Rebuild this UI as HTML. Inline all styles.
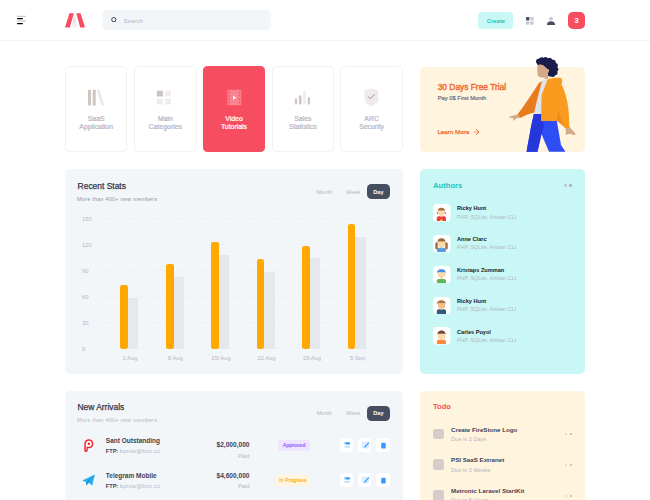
<!DOCTYPE html>
<html><head><meta charset="utf-8">
<style>
*{margin:0;padding:0;box-sizing:border-box}
html,body{width:650px;height:500px;overflow:hidden;background:#fff;font-family:"Liberation Sans",sans-serif}
.a{position:absolute}
.t{position:absolute;white-space:nowrap;line-height:1}
.hdr-line{left:0;top:40px;width:650px;height:1px;background:#F2F2F3}
.card{position:absolute;border-radius:5px}
.tile{position:absolute;top:66.3px;width:62.6px;height:85.6px;border:1px solid #F3F2F1;border-radius:4.6px;background:#fff}
.tile .lbl{position:absolute;left:0;width:100%;text-align:center;font-size:6.9px;-webkit-text-stroke:.22px #B5B5C3;color:#B5B5C3;line-height:8px;top:47.9px}
.gridline{position:absolute;left:101px;width:279px;height:0;border-top:1px dashed #ECEEF3}
.ylab{position:absolute;left:81.9px;width:20px;text-align:left;font-size:5.9px;color:#B5B5C3;line-height:1}
.xlab{position:absolute;top:355.7px;width:40px;text-align:center;font-size:5.8px;color:#B5B5C3;line-height:1}
.ob{position:absolute;width:7.6px;background:#FFA800;border-radius:2.3px}
.gb{position:absolute;width:10.4px;background:#E5E8ED}
.au-av{position:absolute;left:433.5px;width:17px;height:17px;border-radius:4px;background:#fff;overflow:hidden}
.au-n{position:absolute;left:457px;font-size:5.6px;font-weight:bold;color:#212121;line-height:1}
.au-s{position:absolute;left:457px;font-size:5.4px;color:#B5B5C3;line-height:1}
.btn-act{position:absolute;width:13.6px;height:13.6px;background:#fff;border-radius:3.8px}
.chk{position:absolute;left:433.4px;width:10.5px;height:10.5px;border-radius:2.5px;background:#D6CDCB}
.td-n{position:absolute;left:451px;font-size:6.2px;font-weight:bold;color:#3F4254;line-height:1}
.td-s{position:absolute;left:451px;font-size:5.6px;color:#B5B5C3;line-height:1}
.dot{position:absolute;width:2.8px;height:2.8px;border-radius:1px}
</style></head>
<body>
<!-- HEADER -->
<div class="a hdr-line"></div>
<svg class="a" style="left:0;top:0" width="650" height="40">
  <rect x="17" y="15.8" width="9" height="1" fill="#000" opacity=".25"/>
  <rect x="17" y="17.9" width="6" height="1.3" rx=".6" fill="#000"/>
  <rect x="17" y="20.5" width="9" height="1" fill="#000" opacity=".25"/>
  <rect x="17" y="22.9" width="6" height="1.3" rx=".6" fill="#000"/>
  <defs><linearGradient id="lg" x1="0" y1="0" x2="0" y2="1"><stop offset="0" stop-color="#D5DAE2"/><stop offset="1" stop-color="#F4F5F8"/></linearGradient></defs>
  <polygon points="74.4,14.5 71.2,27.4 77.6,27.4" fill="url(#lg)"/>
  <polygon points="69.4,13.3 73.9,13.3 69.8,27.4 65,27.4" fill="#F64E60"/>
  <polygon points="76.3,13.3 80.6,13.3 85,27.4 80.2,27.4" fill="#F64E60"/>
  <rect x="102.5" y="10" width="168.5" height="20" rx="4" fill="#F3F6F9"/>
  <circle cx="113.8" cy="19.6" r="2.1" fill="none" stroke="#3F4254" stroke-width="1"/>
  <line x1="115.5" y1="21.3" x2="116.9" y2="22.7" stroke="#3F4254" stroke-width=".8" opacity=".5"/>
  <rect x="478" y="12" width="35" height="17" rx="4" fill="#C9F7F5"/>
  <rect x="526" y="17" width="3.4" height="3.4" rx=".6" fill="#464E5F"/>
  <rect x="530.3" y="17" width="3.4" height="3.4" rx=".6" fill="#464E5F" opacity=".3"/>
  <rect x="526" y="21.3" width="3.4" height="3.4" rx=".6" fill="#464E5F" opacity=".3"/>
  <rect x="530.3" y="21.3" width="3.4" height="3.4" rx=".6" fill="#464E5F" opacity=".3"/>
  <circle cx="551" cy="18.6" r="1.9" fill="#464E5F" opacity=".3"/>
  <path d="M546.8,24.9 C547.1,22.3 548.8,21.2 551,21.2 C553.2,21.2 554.9,22.3 555.2,24.9 Z" fill="#464E5F"/>
  <rect x="568" y="12" width="17" height="17" rx="4.8" fill="#F64E60"/>
</svg>
<div class="t" style="left:123.5px;top:17.6px;font-size:6.15px;color:#B5B5C3">Search</div>
<div class="t" style="left:486.8px;top:18.5px;font-size:5.9px;font-weight:bold;color:#1BC5BD">Create</div>
<div class="t" style="left:568px;width:17px;text-align:center;top:17px;font-size:7.4px;font-weight:bold;color:#fff">3</div>

<!-- TILES -->
<div class="tile" style="left:64.9px">
  <svg class="a" style="left:0;top:0" width="62" height="60">
    <rect x="22" y="22.8" width="3" height="15.6" rx=".5" fill="#CFC6C3"/>
    <rect x="26.7" y="22.8" width="3" height="15.6" rx=".5" fill="#CFC6C3"/>
    <polygon points="30.6,22.8 33.3,22.8 38.3,38.4 35.6,38.4" fill="#CFC6C3" opacity=".4"/>
  </svg>
  <div class="lbl">SaaS<br>Application</div>
</div>
<div class="tile" style="left:134.1px">
  <svg class="a" style="left:0;top:0" width="62" height="60">
    <rect x="21.9" y="23.7" width="6" height="5.8" rx=".6" fill="#CCC3C0"/>
    <rect x="30" y="23.7" width="6" height="5.8" rx=".6" fill="#CCC3C0" opacity=".3"/>
    <rect x="21.9" y="31.8" width="6" height="5.8" rx=".6" fill="#CCC3C0" opacity=".3"/>
    <rect x="30" y="31.8" width="6" height="5.8" rx=".6" fill="#CCC3C0" opacity=".3"/>
  </svg>
  <div class="lbl">Main<br>Categories</div>
</div>
<div class="tile" style="left:202.7px;background:#F64E60;border-color:#F64E60">
  <svg class="a" style="left:0;top:0" width="62" height="60">
    <rect x="23.3" y="22.7" width="14" height="15.5" rx=".8" fill="#fff" opacity=".3"/>
    <g fill="#F64E60" opacity=".9"><rect x="24.30" y="24.70" width="1.5" height="1.5" rx=".3"/><rect x="24.30" y="28.05" width="1.5" height="1.5" rx=".3"/><rect x="24.30" y="31.45" width="1.5" height="1.5" rx=".3"/><rect x="24.30" y="34.80" width="1.5" height="1.5" rx=".3"/><rect x="34.80" y="24.70" width="1.5" height="1.5" rx=".3"/><rect x="34.80" y="28.05" width="1.5" height="1.5" rx=".3"/><rect x="34.80" y="31.45" width="1.5" height="1.5" rx=".3"/><rect x="34.80" y="34.80" width="1.5" height="1.5" rx=".3"/></g>
    <polygon points="29.05,28.6 29.05,32.8 32.4,30.7" fill="#fff"/>
  </svg>
  <div class="lbl" style="color:#fff;-webkit-text-stroke:.22px #fff">Video<br>Tutorials</div>
</div>
<div class="tile" style="left:271.6px">
  <svg class="a" style="left:0;top:0" width="62" height="60">
    <rect x="21.8" y="31.6" width="2.4" height="6" rx=".8" fill="#CFC6C3"/>
    <rect x="25.9" y="28.5" width="2.6" height="9.1" rx=".8" fill="#CFC6C3"/>
    <rect x="30.2" y="24" width="2.6" height="13" rx=".8" fill="#CFC6C3" opacity=".35"/>
    <rect x="34.7" y="30.3" width="2.4" height="7.3" rx=".8" fill="#CFC6C3"/>
  </svg>
  <div class="lbl">Sales<br>Statistics</div>
</div>
<div class="tile" style="left:340.3px">
  <svg class="a" style="left:0;top:0" width="62" height="60">
    <path d="M23.5,23.6 L30.4,21.4 L37.3,23.6 L37.3,32 C37.3,35.5 34,38 30.4,39.4 C26.8,38 23.5,35.5 23.5,32 Z" fill="#CFC6C3" opacity=".35"/>
    <path d="M27.2,29.8 L29.2,31.6 L33.4,27.7" fill="none" stroke="#B8AEAB" stroke-width="1.1" stroke-linecap="round" stroke-linejoin="round"/>
  </svg>
  <div class="lbl">ARC<br>Security</div>
</div>

<!-- PROMO -->
<div class="card" style="left:420px;top:66.5px;width:165px;height:85.2px;background:#FFF4DE"></div>
<div class="t" style="left:437.7px;top:82.9px;font-size:8.4px;-webkit-text-stroke:.42px #EF6B33;color:#EF6B33">30 Days Free Trial</div>
<div class="t" style="left:437.7px;top:95.6px;font-size:5.8px;-webkit-text-stroke:.15px #5E6278;color:#5E6278">Pay 0$ First Month</div>
<div class="t" style="left:437.4px;top:128.9px;font-size:6.25px;font-weight:normal;-webkit-text-stroke:.25px #EF6B33;color:#EF6B33">Learn More</div>
<svg class="a" style="left:470px;top:126px" width="12" height="12">
  <path d="M6.3,3.4 L9,6 L6.3,8.6" fill="none" stroke="#EF6B33" stroke-width=".9" stroke-linecap="round" stroke-linejoin="round"/>
  <line x1="4" y1="6" x2="8.6" y2="6" stroke="#EF6B33" stroke-width=".9" opacity=".7" stroke-linecap="round"/>
</svg>
<svg class="a" style="left:500px;top:50px" width="90" height="102" viewBox="500 50 90 102">
  <!-- hair -->
  <g fill="#1B1B4D">
  <path d="M536.5,61 C537.5,58 541,57.5 545,58 C549,58 553,59 555.5,62 C557.5,64.5 558,68.5 557.2,72 C556.5,75 554.5,76.8 552,76.8 C549.5,76.8 547.5,75 547,72.5 L541,66.5 C538,66 536,63.5 536.5,61 Z"/>
  <circle cx="538.3" cy="61.3" r="2.3"/><circle cx="541.6" cy="59.3" r="2.1"/><circle cx="545.6" cy="59.2" r="2.1"/>
  <circle cx="549.8" cy="59.9" r="2.1"/><circle cx="553.5" cy="61.9" r="2.1"/><circle cx="555.9" cy="65.2" r="2"/>
  <circle cx="556.4" cy="69.2" r="2"/><circle cx="555.6" cy="73" r="2"/><circle cx="552.8" cy="75.3" r="1.7"/>
  <circle cx="549.5" cy="74.8" r="1.6"/>
  </g>
  <!-- face -->
  <path d="M537.4,66 C538,64.5 540.5,64 543,65 L547.5,69 C548.5,68.8 549.5,69.5 549,71 C548.6,72.5 547.8,73 547.6,74 L548.5,78.5 L545,79.5 L544.5,77.5 C542,77.8 539,77.5 538,75.5 C537.2,73 537,69 537.4,66 Z" fill="#D3A987"/>
  <!-- left sleeve -->
  <path d="M543.5,80 L539,83 C533,92 525.5,104 517.5,114.5 L520.3,118 C527,114 533,112.5 538.8,111.5 L544,92 Z" fill="#E87B1C"/>
  <!-- left hand -->
  <path d="M518,114.3 L510,116.5 L508.8,117.8 L513,118 L513.5,121 L516.5,118.2 L520.5,118 Z" fill="#D3A987"/>
  <!-- shirt -->
  <path d="M542.5,79.5 L547.6,79.5 L542,114.5 L533.8,114.5 C536,104 539,92 542.5,79.5 Z" fill="#E0E3EA"/>
  <!-- pants -->
  <path d="M533.8,114 L556.5,114 L557,122 L561,145 L565.5,151.8 L549,151.8 L541.5,134 L537.5,151.8 L526.5,151.8 L531,127 Z" fill="#2F4DF5"/>
  <path d="M533.8,114 L541,114 L544,126 L541.5,134 L537.5,151.8 L526.5,151.8 L531,127 Z" fill="#2536DB"/>
  <!-- right hand -->
  <path d="M565,127 L569.5,127 L575.5,133.5 L575,135.2 L569.5,133.8 L565.5,135 L566,131 Z" fill="#D3A987"/>
  <!-- jacket body -->
  <path d="M547.5,79.5 C551,78 556,77.6 561,78 C562.5,79 562.5,82 561.5,84.5 C565,91 567.5,100 568.5,110 C569,116 569.3,122 569.4,128 L565,128 C562,125 559,122.5 557,121 L541,121 L541.6,95 Z" fill="#FA9A1E"/>
  <path d="M557.5,109 L557,121 L563.5,124.5 Z" fill="#E7861A" opacity=".7"/>
</svg>

<!-- RECENT STATS -->
<div class="card" style="left:65px;top:169px;width:338px;height:204.5px;background:#F3F6F9"></div>
<div class="t" style="left:77.6px;top:182px;font-size:8.45px;-webkit-text-stroke:.25px #33364A;color:#33364A">Recent Stats</div>
<div class="t" style="left:77.1px;top:196.7px;font-size:5.4px;letter-spacing:.27px;color:#8F93A8">More than 400+ new members</div>
<div class="t" style="left:316.4px;top:189.8px;font-size:5.6px;color:#B5B5C3">Month</div>
<div class="t" style="left:346px;top:189.8px;font-size:5.6px;color:#B5B5C3">Week</div>
<div class="a" style="left:367px;top:184.4px;width:22.9px;height:14.7px;border-radius:4.5px;background:#464E5F"></div>
<div class="t" style="left:367.2px;width:22.5px;text-align:center;top:189.8px;font-size:5.6px;font-weight:bold;color:#fff">Day</div>

<svg class="a" style="left:0;top:0" width="650" height="400">
  <g stroke="#EBEDF1" stroke-width="1" stroke-dasharray="1.5 1.5">
  <line x1="101" y1="218.5" x2="381" y2="218.5"/><line x1="101" y1="244.5" x2="381" y2="244.5"/><line x1="101" y1="270.5" x2="381" y2="270.5"/>
  <line x1="101" y1="296.5" x2="381" y2="296.5"/><line x1="101" y1="322.5" x2="381" y2="322.5"/><line x1="101" y1="348.5" x2="381" y2="348.5"/>
  </g>
</svg>
<div class="ylab" style="top:216.5px">150</div>
<div class="ylab" style="top:242.5px">120</div>
<div class="ylab" style="top:268.5px">90</div>
<div class="ylab" style="top:294.5px">60</div>
<div class="ylab" style="top:320.5px">30</div>
<div class="ylab" style="top:346.5px">0</div>

<div class="gb" style="left:128px;top:298px;height:50.6px"></div>
<div class="ob" style="left:120.4px;top:285px;height:63.6px"></div>
<div class="gb" style="left:173.5px;top:277px;height:71.6px"></div>
<div class="ob" style="left:166px;top:263.7px;height:84.9px"></div>
<div class="gb" style="left:219px;top:254.6px;height:94px"></div>
<div class="ob" style="left:211.3px;top:241.8px;height:106.8px"></div>
<div class="gb" style="left:264.4px;top:272px;height:76.6px"></div>
<div class="ob" style="left:256.9px;top:258.9px;height:89.7px"></div>
<div class="gb" style="left:310px;top:258.4px;height:90.2px"></div>
<div class="ob" style="left:302.4px;top:246px;height:102.6px"></div>
<div class="gb" style="left:355.4px;top:237.3px;height:111.3px"></div>
<div class="ob" style="left:347.8px;top:224.3px;height:124.3px"></div>

<div class="xlab" style="left:110px">1 Aug</div>
<div class="xlab" style="left:155.5px">8 Aug</div>
<div class="xlab" style="left:201px">15l Aug</div>
<div class="xlab" style="left:246.5px">22 Aug</div>
<div class="xlab" style="left:292px">29 Aug</div>
<div class="xlab" style="left:337.5px">5 Sep</div>

<!-- AUTHORS -->
<div class="card" style="left:420px;top:169px;width:165px;height:205.2px;background:#C9F7F5"></div>
<div class="t" style="left:433.1px;top:181.5px;font-size:7.6px;font-weight:bold;color:#1BC5BD">Authors</div>
<div class="dot" style="left:564px;top:183.9px;width:2.9px;height:2.9px;border-radius:50%;background:#A08CAA;opacity:.45"></div>
<div class="dot" style="left:569px;top:183.9px;width:2.9px;height:2.9px;border-radius:50%;background:#A08CAA;opacity:.75"></div>

<div class="au-n" style="top:206.40px">Ricky Hunt</div>
<div class="au-s" style="top:214.50px">PHP, SQLite, Artisan CLI</div>
<div class="au-n" style="top:237.20px">Anne Clarc</div>
<div class="au-s" style="top:245.30px">PHP, SQLite, Artisan CLI</div>
<div class="au-n" style="top:268.00px">Kristaps Zumman</div>
<div class="au-s" style="top:276.10px">PHP, SQLite, Artisan CLI</div>
<div class="au-n" style="top:298.80px">Ricky Hunt</div>
<div class="au-s" style="top:306.90px">PHP, SQLite, Artisan CLI</div>
<div class="au-n" style="top:329.60px">Carles Puyol</div>
<div class="au-s" style="top:337.70px">PHP, SQLite, Artisan CLI</div>

<svg class="a" style="left:433.25px;top:204.25px" width="17.5" height="17.5" viewBox="0 0 17.5 17.5">
  <rect width="17.5" height="17.5" rx="4" fill="#fff"/>
  <path d="M3.8,17 L3.8,13.80 C3.8,12.70 4.9,12.20 6.4,12.20 L10.4,12.20 C11.9,12.20 13,12.70 13,13.80 L13,17 Z" fill="#EF3B3B"/>
  <rect x="7" y="15.6" width="2.8" height="1.4" rx=".6" fill="#FFC83D"/>
  <rect x="7.4" y="10.8" width="2" height="2.2" fill="#F7C890"/>
  <circle cx="4.6" cy="9.1" r=".9" fill="#E83A3A"/><circle cx="12.2" cy="9.1" r=".9" fill="#E83A3A"/>
  <rect x="5.3" y="6.3" width="6.1" height="5.4" rx="2" fill="#FCD8A8"/>
  <path d="M4.8,7.8 C4.6,4.5 6.5,3.7 8.4,3.7 C10.4,3.7 12.2,4.5 12,7.8 L11.3,6.6 L5.4,6.6 Z" fill="#A86B3C"/>
</svg><svg class="a" style="left:433.25px;top:235px" width="17.5" height="17.5" viewBox="0 0 17.5 17.5">
  <rect width="17.5" height="17.5" rx="4" fill="#fff"/>
  <path d="M4,17 L4,14.4 C4,13.3 5.1,12.8 6.6,12.8 L10.2,12.8 C11.7,12.8 12.8,13.3 12.8,14.4 L12.8,17 Z" fill="#5A9BE0"/>
  <rect x="7.4" y="10.8" width="2" height="2.4" fill="#F7C890"/>
  <rect x="2.3" y="7.4" width="2.4" height="7" rx="1.1" fill="#A0683B"/>
  <rect x="12.3" y="7.4" width="2.4" height="7" rx="1.1" fill="#A0683B"/>
  <rect x="5" y="6.2" width="7" height="5.6" rx="2.2" fill="#FCD8A8"/>
  <path d="M4.5,8.2 C4.2,4.4 6.4,3.2 8.5,3.2 C10.6,3.2 12.8,4.4 12.5,8.2 L11.6,6.4 L5.4,6.4 Z" fill="#A0683B"/>
</svg><svg class="a" style="left:433.25px;top:265.75px" width="17.5" height="17.5" viewBox="0 0 17.5 17.5">
  <rect width="17.5" height="17.5" rx="4" fill="#fff"/>
  <path d="M3.8,17 L3.8,14.60 C3.8,13.50 4.9,13.00 6.4,13.00 L10.4,13.00 C11.9,13.00 13,13.50 13,14.60 L13,17 Z" fill="#5DB85C"/>
  <rect x="7.4" y="10.8" width="2" height="2.4" fill="#F7C890"/>
  <rect x="5" y="6.3" width="7.4" height="4.9" rx="2" fill="#FCD8A8"/>
  <path d="M4,7.6 C3.8,4 6.4,3.2 8.5,3.3 C10.8,3.3 13,4 12.7,7.6 L12,6.3 L5,6.3 Z" fill="#4A8EDB"/>
</svg><svg class="a" style="left:433.25px;top:296.5px" width="17.5" height="17.5" viewBox="0 0 17.5 17.5">
  <rect width="17.5" height="17.5" rx="4" fill="#fff"/>
  <path d="M3.8,17 L3.8,13.90 C3.8,12.80 4.9,12.30 6.4,12.30 L10.4,12.30 C11.9,12.30 13,12.80 13,13.90 L13,17 Z" fill="#2F5A7A"/>
  <rect x="7.4" y="10.8" width="2" height="2.2" fill="#F4BB86"/>
  <rect x="5" y="6.2" width="7.2" height="5" rx="2" fill="#F4BE8A"/>
  <path d="M4,7.8 C3.9,4.2 6.3,3.2 8.4,3.3 C10.7,3.3 13,4.2 12.7,7.8 L12,6.3 L5,6.3 Z" fill="#B0743F"/>
</svg><svg class="a" style="left:433.25px;top:327.25px" width="17.5" height="17.5" viewBox="0 0 17.5 17.5">
  <rect width="17.5" height="17.5" rx="4" fill="#fff"/>
  <path d="M3.8,17 L3.8,14.40 C3.8,13.30 4.9,12.80 6.4,12.80 L10.4,12.80 C11.9,12.80 13,13.30 13,14.40 L13,17 Z" fill="#FF8A3D"/>
  <rect x="7.4" y="10.8" width="2" height="2.4" fill="#F7C890"/>
  <rect x="5" y="6.6" width="7.2" height="5.6" rx="2" fill="#FCD8A8"/>
  <path d="M4.5,8.2 C4.3,4.4 6.5,3.5 8.5,3.5 C10.6,3.5 12.7,4.4 12.5,8.2 L11.8,6.8 L5.2,6.8 Z" fill="#7A4633"/>
</svg>
<!-- NEW ARRIVALS -->
<div class="card" style="left:65px;top:390.9px;width:338px;height:120px;background:#F3F6F9"></div>
<div class="t" style="left:77.4px;top:403.4px;font-size:8.45px;-webkit-text-stroke:.25px #33364A;color:#33364A">New Arrivals</div>
<div class="t" style="left:77.1px;top:417.6px;font-size:5.4px;letter-spacing:.27px;color:#B5B5C3">More than 400+ new members</div>
<div class="t" style="left:316.4px;top:410.8px;font-size:5.6px;color:#B5B5C3">Month</div>
<div class="t" style="left:346px;top:410.8px;font-size:5.6px;color:#B5B5C3">Week</div>
<div class="a" style="left:367px;top:406.1px;width:22.9px;height:14.6px;border-radius:4.5px;background:#464E5F"></div>
<div class="t" style="left:367.2px;width:22.5px;text-align:center;top:410.8px;font-size:5.6px;font-weight:bold;color:#fff">Day</div>


<svg class="a" style="left:80px;top:436px" width="18" height="18" viewBox="0 0 18 18">
  <path d="M4.3,7.8 C4.3,5 6.3,3.2 8.9,3.2 C11.6,3.2 13.4,5.1 13.4,7.7 C13.4,10.3 11.5,12.2 8.9,12.2 L7.8,12.2 L7.8,14.6 C7.8,15.5 7.2,15.9 6.1,15.9 C5,15.9 4.3,15.4 4.3,14.4 Z" fill="#EE2A31"/>
  <path d="M5.8,7.9 C5.8,6 7.1,4.7 8.9,4.7 C10.7,4.7 11.9,6 11.9,7.7 C11.9,9.5 10.6,10.7 8.9,10.7 L6.4,10.7 L6.4,14.2 C6.4,14.4 6.2,14.5 6.1,14.5 C5.9,14.5 5.8,14.4 5.8,14.2 Z" fill="#fff"/>
  <circle cx="8.9" cy="7.7" r="1.25" fill="#EE2A31"/>
</svg>
<div class="t" style="left:105.8px;top:438.4px;font-size:6.5px;font-weight:bold;color:#3F4254">Sant Outstanding</div>
<div class="t" style="left:105.8px;top:449.2px;font-size:5.6px;font-weight:bold;color:#3F4254">FTP: <span style="font-weight:normal;letter-spacing:.28px;color:#B5B5C3">bprow@bnc.cc</span></div>
<div class="t" style="left:200px;width:49.5px;text-align:right;top:442.2px;font-size:6.6px;font-weight:bold;color:#3F4254">$2,000,000</div>
<div class="t" style="left:200px;width:49.5px;text-align:right;top:453.6px;font-size:5.8px;color:#B5B5C3">Paid</div>
<div class="a" style="left:278px;top:440px;width:32px;height:10.6px;border-radius:2.5px;background:#EEE5FF"></div>
<div class="t" style="left:278px;width:32px;text-align:center;top:443.1px;font-size:5.3px;color:#8950FC;-webkit-text-stroke:.1px #8950FC">Approved</div>

<svg class="a" style="left:80px;top:471px" width="18" height="18" viewBox="0 0 18 18">
  <path d="M2.2,9.6 L14.8,3.5 L12.3,14.5 L8.6,11.8 L6.4,14.6 L6.2,11.2 Z" fill="#2AB0EE"/>
  <path d="M6.2,11.2 L14.8,3.5 L8.6,11.8 L6.4,14.6 Z" fill="#1C98DA"/>
</svg>
<div class="t" style="left:105.8px;top:472.6px;font-size:6.5px;font-weight:bold;color:#3F4254">Telegram Mobile</div>
<div class="t" style="left:105.8px;top:483.6px;font-size:5.6px;font-weight:bold;color:#3F4254">FTP: <span style="font-weight:normal;letter-spacing:.28px;color:#B5B5C3">bprow@bnc.cc</span></div>
<div class="t" style="left:200px;width:49.5px;text-align:right;top:472.8px;font-size:6.6px;font-weight:bold;color:#3F4254">$4,600,000</div>
<div class="t" style="left:200px;width:49.5px;text-align:right;top:484px;font-size:5.8px;color:#B5B5C3">Paid</div>
<div class="a" style="left:275.6px;top:474.6px;width:34.4px;height:11px;border-radius:2.5px;background:#FFF4DE"></div>
<div class="t" style="left:275.6px;width:34.4px;text-align:center;top:477.8px;font-size:5.3px;color:#FFA800;-webkit-text-stroke:.1px #FFA800">In Progress</div>
<div class="btn-act" style="left:339.6px;top:438.4px"></div>
<div class="btn-act" style="left:357.8px;top:438.4px"></div>
<div class="btn-act" style="left:376px;top:438.4px"></div>
<svg class="a" style="left:339.6px;top:438.4px" width="51" height="14">
  <rect x="4.3" y="4.2" width="5.9" height="2.3" rx="1.15" fill="#3699FF"/>
  <circle cx="5.5" cy="5.35" r=".5" fill="#fff"/>
  <rect x="4.3" y="7.8" width="5.9" height="1.9" rx=".95" fill="#3699FF" opacity=".3"/>
  <rect x="22.5" y="4.3" width="5.8" height="5.7" rx=".7" fill="#3699FF" fill-opacity=".12" stroke="#3699FF" stroke-opacity=".35" stroke-width=".5"/>
  <line x1="24.7" y1="9" x2="28.6" y2="4.8" stroke="#3699FF" stroke-width="1.2" stroke-linecap="round"/>
  <rect x="41.2" y="5.1" width="4.5" height="5.3" rx=".6" fill="#3699FF"/>
  <rect x="41.6" y="4" width="3.7" height=".8" rx=".4" fill="#3699FF" opacity=".3"/>
</svg>
<div class="btn-act" style="left:339.6px;top:473px"></div>
<div class="btn-act" style="left:357.8px;top:473px"></div>
<div class="btn-act" style="left:376px;top:473px"></div>
<svg class="a" style="left:339.6px;top:473px" width="51" height="14">
  <rect x="4.3" y="4.2" width="5.9" height="2.3" rx="1.15" fill="#3699FF"/>
  <circle cx="5.5" cy="5.35" r=".5" fill="#fff"/>
  <rect x="4.3" y="7.8" width="5.9" height="1.9" rx=".95" fill="#3699FF" opacity=".3"/>
  <rect x="22.5" y="4.3" width="5.8" height="5.7" rx=".7" fill="#3699FF" fill-opacity=".12" stroke="#3699FF" stroke-opacity=".35" stroke-width=".5"/>
  <line x1="24.7" y1="9" x2="28.6" y2="4.8" stroke="#3699FF" stroke-width="1.2" stroke-linecap="round"/>
  <rect x="41.2" y="5.1" width="4.5" height="5.3" rx=".6" fill="#3699FF"/>
  <rect x="41.6" y="4" width="3.7" height=".8" rx=".4" fill="#3699FF" opacity=".3"/>
</svg>

<!-- TODO -->
<div class="card" style="left:420px;top:390.9px;width:165px;height:120px;background:#FFF4DE"></div>
<div class="t" style="left:433px;top:403.4px;font-size:7.6px;font-weight:bold;color:#F64E60">Todo</div>
<div class="chk" style="top:428.6px"></div>
<div class="td-n" style="top:426.6px">Create FireStone Logo</div>
<div class="td-s" style="top:437.10px">Due in 2 Days</div>
<div class="chk" style="top:459.3px"></div>
<div class="td-n" style="top:457px">PSI SaaS Extranet</div>
<div class="td-s" style="top:467.50px">Due in 3 Weeks</div>
<div class="chk" style="top:490px"></div>
<div class="td-n" style="top:487.6px">Metronic Laravel StartKit</div>
<div class="td-s" style="top:498.10px">Due in 5 Hours</div>
<div class="dot" style="left:564.6px;top:433.4px;width:2.1px;height:2.1px;background:#B5B5C3;opacity:.45"></div><div class="dot" style="left:569.7px;top:433.4px;width:2.1px;height:2.1px;background:#A9A6B5;opacity:.8"></div>
<div class="dot" style="left:564.6px;top:464.1px;width:2.1px;height:2.1px;background:#B5B5C3;opacity:.45"></div><div class="dot" style="left:569.7px;top:464.1px;width:2.1px;height:2.1px;background:#A9A6B5;opacity:.8"></div>
<div class="dot" style="left:564.6px;top:494.8px;width:2.1px;height:2.1px;background:#B5B5C3;opacity:.45"></div><div class="dot" style="left:569.7px;top:494.8px;width:2.1px;height:2.1px;background:#A9A6B5;opacity:.8"></div>
</body></html>
